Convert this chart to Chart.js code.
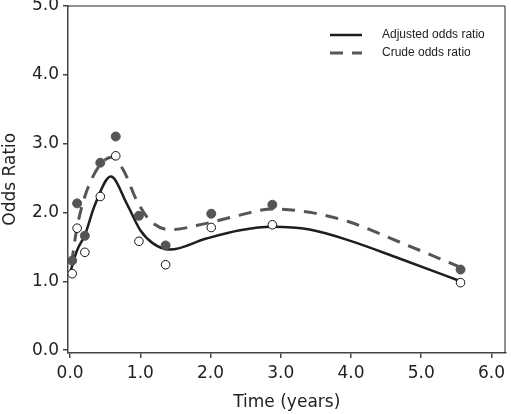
<!DOCTYPE html>
<html>
<head>
<meta charset="utf-8">
<script src="https://cdn.jsdelivr.net/npm/chart.js@4/dist/chart.umd.min.js"></script>
<style>
html,body{margin:0;padding:0;background:#fff;}
#wrap{width:511px;height:414px;position:relative;}
</style>
</head>
<body>
<div id="wrap"><canvas id="c" width="511" height="414"></canvas></div>
<script>
// ---- data ----
const pointTimes = [0.03, 0.10, 0.21, 0.43, 0.65, 0.98, 1.36, 2.01, 2.88, 5.56];
const crudePoints = [1.30, 2.13, 1.66, 2.72, 3.10, 1.95, 1.52, 1.98, 2.11, 1.17];
const adjustedPoints = [1.11, 1.77, 1.42, 2.23, 2.82, 1.58, 1.24, 1.78, 1.82, 0.98];

const adjCurveX = [0.01, 0.10, 0.21, 0.35, 0.58, 0.81, 1.00, 1.18, 1.42, 1.94, 2.42, 2.88, 3.41, 3.98, 4.69, 5.56];
const adjCurveY = [1.16, 1.45, 1.67, 2.10, 2.52, 2.12, 1.74, 1.55, 1.46, 1.62, 1.74, 1.79, 1.75, 1.59, 1.33, 1.00];

const crudeCurveX = [0.02, 0.10, 0.28, 0.59, 0.76, 0.95, 1.14, 1.42, 1.94, 2.42, 2.88, 3.41, 3.98, 4.69, 5.52];
const crudeCurveY = [1.26, 1.79, 2.42, 2.80, 2.61, 2.17, 1.88, 1.75, 1.84, 1.96, 2.05, 2.00, 1.86, 1.57, 1.22];

const xTicks = [0, 1, 2, 3, 4, 5, 6];
const yTicks = [0, 1, 2, 3, 4, 5];
const legendLabels = ['Adjusted odds ratio', 'Crude odds ratio'];
const xTitle = 'Time (years)';
const yTitle = 'Odds Ratio';

const pts = (xs, ys) => xs.map((x, i) => ({x: x, y: ys[i]}));

const FONT = 'DejaVu Sans, Verdana, sans-serif';

const framePlugin = {
  id: 'frame',
  afterDatasetsDraw(chart) {
    const {ctx, chartArea: a} = chart;
    ctx.save();
    ctx.strokeStyle = '#222';
    ctx.lineWidth = 1;
    ctx.beginPath();
    ctx.moveTo(a.left, a.top + 0.5);
    ctx.lineTo(a.right - 0.5, a.top + 0.5);
    ctx.lineTo(a.right - 0.5, a.bottom);
    ctx.stroke();
    ctx.restore();
  },
  afterDraw(chart) {
    const ctx = chart.ctx;
    const ds = chart.data.datasets;
    ctx.save();
    const items = [ds[0], ds[1]];
    const x0 = 330, x1 = 362, tx = 382, ys = [35, 53];
    items.forEach((d, i) => {
      ctx.strokeStyle = d.borderColor;
      ctx.lineWidth = d.borderWidth;
      ctx.setLineDash(d.borderDash || []);
      ctx.beginPath();
      ctx.moveTo(x0, ys[i]);
      ctx.lineTo(x1, ys[i]);
      ctx.stroke();
      ctx.setLineDash([]);
      ctx.fillStyle = '#222';
      ctx.font = '12px "Liberation Sans Narrow", "Arial Narrow", sans-serif';
      ctx.textBaseline = 'middle';
      ctx.textAlign = 'left';
      ctx.fillText(legendLabels[i], tx, ys[i]);
    });
    ctx.restore();
  }
};

new Chart(document.getElementById('c'), {
  type: 'line',
  data: {
    datasets: [
      {
        label: legendLabels[0],
        data: pts(adjCurveX, adjCurveY),
        borderColor: '#1e1e1e',
        borderWidth: 2.5,
        pointRadius: 0,
        cubicInterpolationMode: 'monotone',
        fill: false,
        order: 3
      },
      {
        label: legendLabels[1],
        data: pts(crudeCurveX, crudeCurveY),
        borderColor: '#555',
        borderWidth: 3,
        borderDash: [13, 9],
        pointRadius: 0,
        cubicInterpolationMode: 'monotone',
        fill: false,
        order: 2
      },
      {
        type: 'scatter',
        label: 'crude points',
        data: pts(pointTimes, crudePoints),
        backgroundColor: '#555',
        borderColor: '#555',
        borderWidth: 1,
        pointRadius: 4.5,
        showLine: false,
        order: 1
      },
      {
        type: 'scatter',
        label: 'adjusted points',
        data: pts(pointTimes, adjustedPoints),
        backgroundColor: '#fff',
        borderColor: '#111',
        borderWidth: 1,
        pointRadius: 4.3,
        showLine: false,
        order: 0
      }
    ]
  },
  options: {
    responsive: false,
    animation: false,
    layout: {padding: {left: 0, right: 4, top: 0, bottom: 0}},
    plugins: {legend: {display: false}, tooltip: {enabled: false}},
    scales: {
      x: {
        type: 'linear',
        min: -0.03,
        max: 6.2,
        afterBuildTicks(s) { s.ticks = xTicks.map(v => ({value: v})); },
        afterFit(s) { s.height = 61; s.paddingLeft = 0; s.paddingRight = 0; },
        ticks: {
          callback: v => Number(v).toFixed(1),
          color: '#222',
          font: {family: FONT, size: 17},
          padding: 5,
          maxRotation: 0,
          autoSkip: false
        },
        grid: {drawOnChartArea: false, drawTicks: true, tickLength: 5, color: '#444', lineWidth: 1.5},
        border: {display: true, color: '#444', width: 1.5},
        title: {display: true, text: xTitle, color: '#222', font: {family: FONT, size: 17}, padding: {top: 0, bottom: 1}}
      },
      y: {
        type: 'linear',
        min: -0.04,
        max: 5,
        afterBuildTicks(s) { s.ticks = yTicks.map(v => ({value: v})); },
        afterFit(s) { s.width = 68; s.paddingTop = 0; s.paddingBottom = 0; },
        ticks: {
          callback: v => Number(v).toFixed(1),
          color: '#222',
          font: {family: FONT, size: 17},
          padding: 4,
          autoSkip: false
        },
        grid: {drawOnChartArea: false, drawTicks: true, tickLength: 5, color: '#444', lineWidth: 1.5},
        border: {display: true, color: '#444', width: 1.5},
        title: {display: true, text: yTitle, color: '#222', font: {family: FONT, size: 17}, padding: {top: 0, bottom: 0}}
      }
    }
  },
  plugins: [framePlugin]
});
</script>
</body>
</html>
